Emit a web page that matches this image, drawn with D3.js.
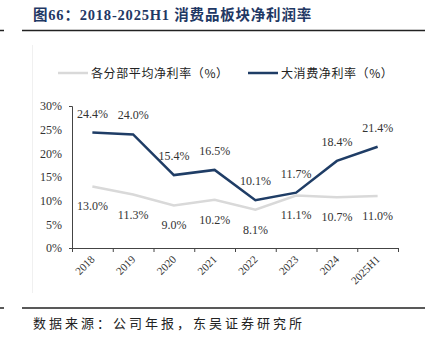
<!DOCTYPE html>
<html><head><meta charset="utf-8">
<script src="https://cdn.jsdelivr.net/npm/d3@7"></script>
<style>body{margin:0;background:#fff}svg{display:block}</style>
</head><body>
<svg id="c" width="434" height="341"></svg>
<script>
const categories = ["2018","2019","2020","2021","2022","2023","2024","2025H1"];
const avgSeries = [13.0,11.3,9.0,10.2,8.1,11.1,10.7,11.0];
const bigSeries = [24.4,24.0,15.4,16.5,10.1,11.7,18.4,21.4];
const yTicks = [0,5,10,15,20,25,30];
const seriesNames = ["各分部平均净利率（%）","大消费净利率（%）"];
const titleText = "图66：2018-2025H1 消费品板块净利润率";
const sourceText = "数据来源：公司年报，东吴证券研究所";

const svg = d3.select("#c");
const navy = "#1f3d66", grey = "#d9d9d9", titleCol = "#1f3864";
const serif = "'Liberation Serif','DejaVu Serif',serif";
const cjk = "'Noto Sans CJK SC',sans-serif";

// title & rules
svg.append("text").attr("x",33).attr("y",20).attr("fill",titleCol)
  .attr("font-family",serif+","+cjk).attr("font-weight","bold").attr("font-size",14.5)
  .attr("letter-spacing",0.8).text(titleText);
svg.append("line").attr("x1",22).attr("x2",425).attr("y1",30.5).attr("y2",30.5).attr("stroke","#222").attr("stroke-width",1.5);
svg.append("line").attr("x1",0).attr("x2",4).attr("y1",30.5).attr("y2",30.5).attr("stroke","#222").attr("stroke-width",1.5);
svg.append("line").attr("x1",22).attr("x2",425).attr("y1",308).attr("y2",308).attr("stroke","#222").attr("stroke-width",1.5);
svg.append("line").attr("x1",0).attr("x2",4).attr("y1",308).attr("y2",308).attr("stroke","#222").attr("stroke-width",1.5);
svg.append("line").attr("x1",32.5).attr("x2",32.5).attr("y1",45).attr("y2",293).attr("stroke","#f0f0f0").attr("stroke-width",1);
svg.append("text").attr("x",33).attr("y",328).attr("fill","#222")
  .attr("font-family",cjk).attr("font-size",13).attr("letter-spacing",3).text(sourceText);

// scales
const x = d3.scaleBand().domain(categories).range([72,398]).padding(0);
const y = d3.scaleLinear().domain([0,30]).range([248,106]);
const cx = d => x(d) + x.bandwidth()/2;

// y axis
const ya = svg.append("g").attr("transform","translate(72,0)")
  .call(d3.axisLeft(y).tickValues(yTicks).tickFormat(d=>d+"%").tickSizeInner(0).tickSizeOuter(3).tickPadding(10));
ya.select(".domain").attr("stroke","#444");
ya.selectAll("text").attr("font-family",serif).attr("font-size",12).attr("fill","#333");

// x axis
const xa = svg.append("g").attr("transform","translate(0,248)");
xa.append("line").attr("x1",72).attr("x2",398).attr("y1",0.5).attr("y2",0.5).attr("stroke","#444");
const bounds = categories.map(c=>x(c)).concat([x.range()[1]]);
xa.selectAll(".tk").data(bounds).join("line").attr("x1",d=>d+0.5).attr("x2",d=>d+0.5)
  .attr("y1",0).attr("y2",4).attr("stroke","#444");
xa.selectAll(".xl").data(categories).join("text")
  .attr("transform",d=>`translate(${cx(d)+3},${12}) rotate(-45)`)
  .attr("text-anchor","end").attr("font-family",serif).attr("font-size",11).attr("fill","#333").text(d=>d);

// lines
const line = d3.line().x((d,i)=>cx(categories[i])).y(d=>y(d));
svg.append("path").datum(avgSeries).attr("d",line).attr("fill","none").attr("stroke",grey).attr("stroke-width",2.5);
svg.append("path").datum(bigSeries).attr("d",line).attr("fill","none").attr("stroke",navy).attr("stroke-width",2.5);

// labels
svg.selectAll(".lb").data(bigSeries).join("text")
  .attr("x",(d,i)=>cx(categories[i])).attr("y",d=>y(d)-15)
  .attr("text-anchor","middle").attr("font-family",serif).attr("font-size",12).attr("fill","#333")
  .text(d=>d.toFixed(1)+"%");
svg.selectAll(".la").data(avgSeries).join("text")
  .attr("x",(d,i)=>cx(categories[i])).attr("y",d=>y(d)+24)
  .attr("text-anchor","middle").attr("font-family",serif).attr("font-size",12).attr("fill","#333")
  .text(d=>d.toFixed(1)+"%");

// legend
const leg = [{x:58,c:grey,t:seriesNames[0]},{x:248,c:navy,t:seriesNames[1]}];
leg.forEach(l=>{
  svg.append("line").attr("x1",l.x).attr("x2",l.x+30).attr("y1",73).attr("y2",73).attr("stroke",l.c).attr("stroke-width",2.5);
  svg.append("text").attr("x",l.x+33).attr("y",77.5).attr("font-family",cjk).attr("font-size",12)
    .attr("letter-spacing",0.6).attr("fill","#222").text(l.t);
});
</script>
</body></html>
